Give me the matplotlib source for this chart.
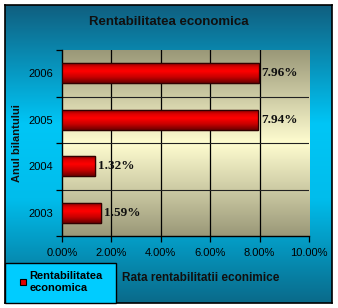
import numpy as np
import matplotlib
matplotlib.use("Agg")
import matplotlib.pyplot as plt
from matplotlib.colors import LinearSegmentedColormap
from matplotlib.patches import Rectangle
from matplotlib.lines import Line2D

# ---- data ----
categories = ["2003", "2004", "2005", "2006"]
values = [1.59, 1.32, 7.94, 7.96]
value_labels = ["1.59%", "1.32%", "7.94%", "7.96%"]
xticks = [0, 2, 4, 6, 8, 10]
xtick_labels = ["0.00%", "2.00%", "4.00%", "6.00%", "8.00%", "10.00%"]
title = "Rentabilitatea economica"
xlabel = "Rata rentabilitatii econimice"
ylabel = "Anul bilantului"
series_name = "Rentabilitatea\neconomica"

W, H = 338, 308
fig = plt.figure(figsize=(W / 100, H / 100), dpi=100, facecolor="white")

def fx(px):
    return px / W

def fy(py):
    return (H - py) / H

# ---- background panel with vertical gradient ----
bg = fig.add_axes([fx(5), fy(303), fx(332) - fx(5), fy(5) - fy(303)], zorder=0)
bg_cmap = LinearSegmentedColormap.from_list(
    "bg", [(0.0, "#0a6a8a"), (0.35, "#00bdec"), (0.6, "#00c6f6"), (1.0, "#105f80")])
grad = np.linspace(0, 1, 256).reshape(-1, 1)
bg.imshow(grad, cmap=bg_cmap, aspect="auto", extent=[0, 1, 0, 1], origin="lower")
bg.set_xlim(0, 1)
bg.set_ylim(0, 1)
bg.set_xticks([])
bg.set_yticks([])
for s in bg.spines.values():
    s.set_color("black")
    s.set_linewidth(1.2)

# ---- plot axes ----
ax = fig.add_axes([fx(62), fy(236), fx(309) - fx(62), fy(50) - fy(236)], zorder=2)
ax.set_xlim(0, 10)
ax.set_ylim(-0.5, len(categories) - 0.5)

pa_cmap = LinearSegmentedColormap.from_list(
    "pa", [(0.0, "#9a9878"), (0.5, "#fffdd0"), (1.0, "#9a9878")])
ax.imshow(grad, cmap=pa_cmap, aspect="auto",
          extent=[0, 10, -0.5, len(categories) - 0.5], origin="lower", zorder=0)

y = np.arange(len(categories))
bars = ax.barh(y, values, height=0.42, color="#e00000", edgecolor="#300000",
               linewidth=0.9, zorder=3)

bar_cmap = LinearSegmentedColormap.from_list(
    "bar", [(0.0, "#6a0000"), (0.3, "#c80000"), (0.6, "#ff0000"), (0.8, "#e00000"), (1.0, "#8a0000")])
for b in bars:
    x0, y0 = b.get_x(), b.get_y()
    w, h = b.get_width(), b.get_height()
    im = ax.imshow(grad, cmap=bar_cmap, aspect="auto",
                   extent=[x0, x0 + w, y0, y0 + h], origin="lower", zorder=3.5)
    im.set_clip_path(b)
    edge = Rectangle((x0, y0), w, h, fill=False, edgecolor="#300000",
                     linewidth=0.9, zorder=4)
    ax.add_patch(edge)

for yi, v, lab in zip(y, values, value_labels):
    ax.text(v + 0.12, yi, lab, va="center", ha="left",
            family="Liberation Serif", fontweight="bold", fontsize=9.5,
            color="#101010", zorder=5)

ax.set_xlim(0, 10)
ax.set_ylim(-0.5, len(categories) - 0.5)

# gridlines
for xt in xticks[1:-1]:
    ax.axvline(xt, color="black", linewidth=0.9, zorder=1)
for yb in np.arange(0.5, len(categories) - 0.5, 1.0):
    ax.axhline(yb, color="#222222", linewidth=0.8, zorder=1)

ax.set_xticks(xticks)
ax.set_xticklabels(xtick_labels, family="Liberation Sans", fontsize=8)
ax.set_yticks(y)
ax.set_yticklabels(categories, family="Liberation Sans", fontsize=8)
ax.set_yticks(np.arange(-0.5, len(categories), 1.0), minor=True)
ax.tick_params(axis="y", which="major", length=0, pad=6.5)
ax.tick_params(axis="y", which="minor", length=4, width=0.9, direction="out")
ax.tick_params(axis="x", which="major", length=4, width=0.9, direction="out", pad=4.5)

for name in ["top", "right"]:
    ax.spines[name].set_visible(False)
for name in ["left", "bottom"]:
    ax.spines[name].set_color("black")
    ax.spines[name].set_linewidth(1.0)

# ---- texts ----
fig.text(fx(169), fy(22), title, ha="center", va="center",
         family="Liberation Sans", fontweight="bold", fontsize=9.5, color="#101010", zorder=5)
fig.text(fx(17), fy(143), ylabel, ha="center", va="center", rotation=90,
         family="Liberation Sans", fontweight="bold", fontsize=8, color="#101010", zorder=5)
fig.text(fx(201), fy(278), xlabel, ha="center", va="center",
         family="Liberation Sans", fontweight="bold", fontsize=8.5, color="#101010", zorder=5)

# ---- legend box ----
leg_rect = Rectangle((fx(5), fy(303)), fx(116) - fx(5), fy(263) - fy(303),
                     transform=fig.transFigure, facecolor="#00ccff",
                     edgecolor="black", linewidth=1.0, zorder=3)
fig.add_artist(leg_rect)
handle = Line2D([], [], linestyle="none", marker="s", markersize=5,
                markerfacecolor="#e00000", markeredgecolor="black", markeredgewidth=0.8)
leg = fig.legend([handle], [series_name], loc="center left",
                 bbox_to_anchor=(fx(20), fy(282)), frameon=False,
                 prop={"family": "Liberation Sans", "weight": "bold", "size": 8},
                 handlelength=0.5, handletextpad=0.35, borderpad=0, borderaxespad=0)
leg.get_texts()[0].set_linespacing(1.3)
leg.set_zorder(6)

fig.savefig("out.png", dpi=100, facecolor="white")
